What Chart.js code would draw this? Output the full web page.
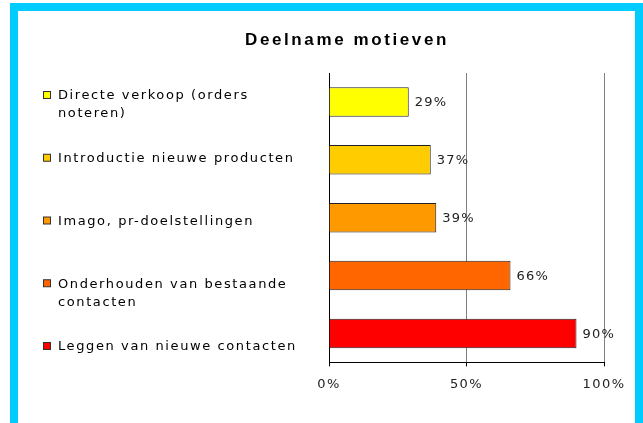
<!DOCTYPE html>
<html lang="nl">
<head>
<meta charset="UTF-8">
<title>Deelname motieven</title>
<script src="https://cdn.jsdelivr.net/npm/chart.js@4.4.0/dist/chart.umd.min.js"></script>
<style>
    html, body { margin: 0; padding: 0; overflow: hidden; background: #fff; }
    .frame { position: absolute; left: 10px; top: 3px; width: 617px; height: 430px; border: 8px solid #00ccff; background: #fff; }
    .box { position: relative; width: 617px; height: 412px; }
</style>
</head>
<body>
<div class="frame">
    <div class="box"><canvas id="motieven"></canvas></div>
</div>
<script>
    // data
    const categories = [
        'Directe verkoop (orders noteren)',
        'Introductie nieuwe producten',
        'Imago, pr-doelstellingen',
        'Onderhouden van bestaande contacten',
        'Leggen van nieuwe contacten'
    ]
    const legendLines = [
        ['Directe verkoop (orders', 'noteren)'],
        ['Introductie nieuwe producten'],
        ['Imago, pr-doelstellingen'],
        ['Onderhouden van bestaande', 'contacten'],
        ['Leggen van nieuwe contacten']
    ]
    const percentages = [29, 37, 39, 66, 90]
    const barColors = ['#ffff00', '#ffcc00', '#ff9900', '#ff6600', '#ff0000']
    const xTicks = [0, 50, 100]
    const chartTitle = 'Deelname motieven'

    const textFont = '13px "DejaVu Sans", Verdana, sans-serif'

    // title, legend on the left and value labels next to the bars
    const sideText = {
        id: 'sideText',
        beforeDraw(chart) {
            // the excel text is spaced out a bit
            chart.ctx.letterSpacing = '1.4px'
        },
        afterDatasetsDraw(chart) {
            const ctx = chart.ctx
            const meta = chart.getDatasetMeta(0)
            ctx.save()
            ctx.font = textFont
            ctx.fillStyle = '#222'
            ctx.textBaseline = 'middle'
            ctx.textAlign = 'left'
            ctx.letterSpacing = '1.2px'
            meta.data.forEach((bar, i) => {
                ctx.fillText(percentages[i] + '%', bar.x + 6, bar.y + 1)
            })
            ctx.restore()
        },
        afterDraw(chart) {
            const ctx = chart.ctx
            ctx.save()
            ctx.fillStyle = '#000'
            ctx.textBaseline = 'middle'
            ctx.textAlign = 'center'
            ctx.font = 'bold 17px "Liberation Sans", Arial, sans-serif'
            ctx.letterSpacing = '2.6px'
            ctx.fillText(chartTitle, 329, 29)

            ctx.font = textFont
            ctx.textAlign = 'left'
            ctx.letterSpacing = '1.6px'
            legendLines.forEach((lines, i) => {
                const y = 85 + i * 62.75
                ctx.fillStyle = barColors[i]
                ctx.fillRect(25.5, y - 4.5, 7, 7)
                ctx.strokeStyle = '#333'
                ctx.lineWidth = 1
                ctx.strokeRect(25.5, y - 4.5, 7, 7)
                ctx.fillStyle = '#000'
                lines.forEach((line, k) => ctx.fillText(line, 40, y + k * 18))
            })
            ctx.restore()
        }
    }

    new Chart(document.getElementById('motieven'), {
        type: 'bar',
        data: {
            labels: categories,
            datasets: [{
                data: percentages,
                backgroundColor: barColors,
                borderColor: '#222',
                borderWidth: 1,
                borderSkipped: 'start',
                barPercentage: 0.51,
                categoryPercentage: 1
            }]
        },
        options: {
            indexAxis: 'y',
            responsive: true,
            maintainAspectRatio: false,
            animation: false,
            layout: {padding: {left: 311, right: 31, top: 62, bottom: 21}},
            plugins: {legend: {display: false}, title: {display: false}, tooltip: {enabled: false}},
            scales: {
                x: {
                    min: 0,
                    max: 100,
                    afterBuildTicks: scale => { scale.ticks = xTicks.map(v => ({value: v})) },
                    ticks: {
                        callback: v => v + '%',
                        color: '#222',
                        font: {family: '"DejaVu Sans", Verdana, sans-serif', size: 13},
                        padding: 10,
                        maxRotation: 0
                    },
                    grid: {
                        color: c => (c.tick && c.tick.value === 0) ? '#000' : '#808080',
                        tickColor: '#000',
                        tickLength: 4,
                        lineWidth: 1
                    },
                    border: {color: '#000'}
                },
                y: {
                    ticks: {display: false},
                    grid: {display: false, drawTicks: false},
                    border: {color: '#000'}
                }
            }
        },
        plugins: [sideText]
    })
</script>
</body>
</html>
